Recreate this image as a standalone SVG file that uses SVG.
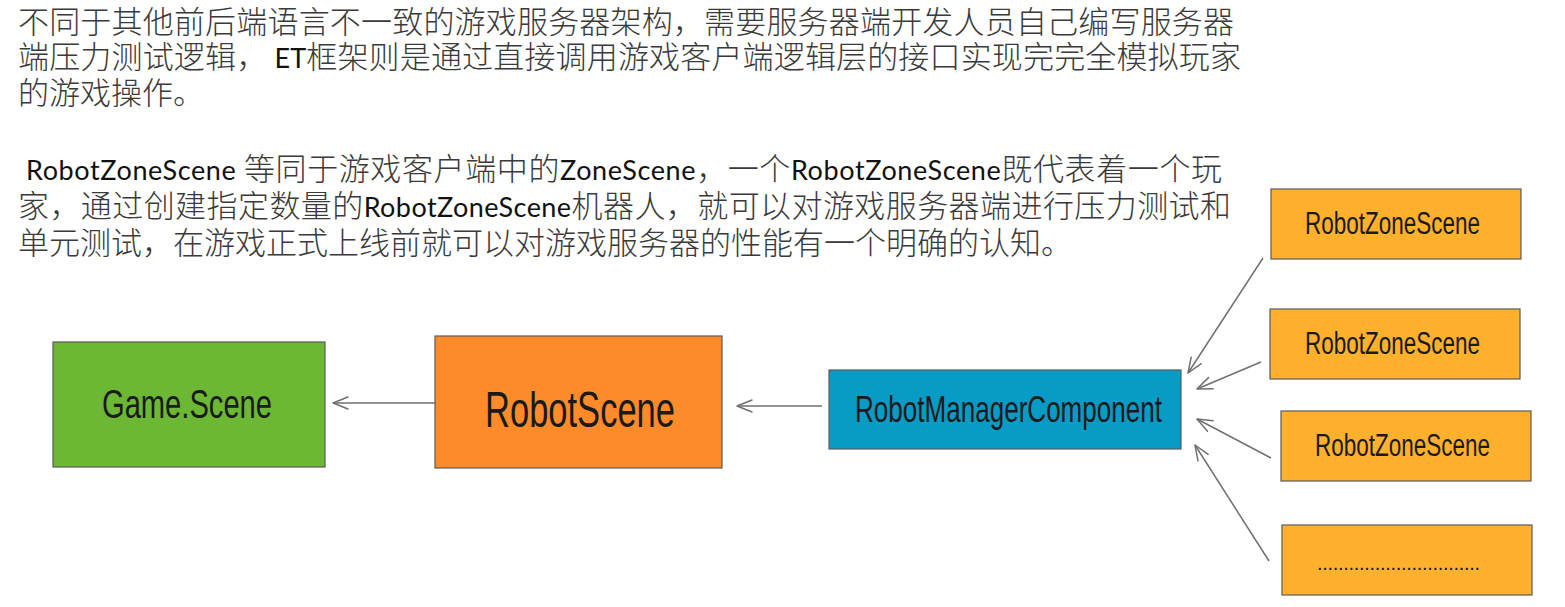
<svg xmlns="http://www.w3.org/2000/svg" width="1565" height="607" viewBox="0 0 1565 607">
<style>
  .cn { font-family: "Noto Sans CJK SC", "Noto Sans", sans-serif; font-size: 31px; font-weight: 300; fill: #3a3a3a; }
  .en { font-family: Lato, "Liberation Sans", sans-serif; font-size: 27px; font-weight: 400; fill: #111111; }
  .box { stroke: #5a5a5a; stroke-width: 1.2; }
  .lbl { font-family: "Liberation Sans", "DejaVu Sans", sans-serif; fill: #1a1a1a; }
  .conn { stroke: #707070; stroke-width: 1.5; fill: none; marker-end: url(#arr); }
</style>
<defs>
  <marker id="arr" markerUnits="userSpaceOnUse" markerWidth="22" markerHeight="16" viewBox="-18 -8 22 16" refX="0" refY="0" orient="auto">
    <path d="M-15,-6 L0,0 L-15,6" fill="none" stroke="#707070" stroke-width="1.5" stroke-linecap="round" stroke-linejoin="round"/>
  </marker>
</defs>
<rect width="1565" height="607" fill="#ffffff"/>

<g id="paragraph1">
  <text class="cn" x="18" y="33" textLength="1216" lengthAdjust="spacing">不同于其他前后端语言不一致的游戏服务器架构，需要服务器端开发人员自己编写服务器</text>
  <text class="cn" x="18" y="68" textLength="1223" lengthAdjust="spacing">端压力测试逻辑，<tspan class="en"> ET</tspan>框架则是通过直接调用游戏客户端逻辑层的接口实现完完全模拟玩家</text>
  <text class="cn" x="18" y="104">的游戏操作。</text>
</g>

<g id="paragraph2">
  <text class="cn" x="26" y="180" textLength="1196" lengthAdjust="spacing"><tspan class="en">RobotZoneScene </tspan>等同于游戏客户端中的<tspan class="en">ZoneScene</tspan>，一个<tspan class="en">RobotZoneScene</tspan>既代表着一个玩</text>
  <text class="cn" x="18" y="217" textLength="1213" lengthAdjust="spacing">家，通过创建指定数量的<tspan class="en">RobotZoneScene</tspan>机器人，就可以对游戏服务器端进行压力测试和</text>
  <text class="cn" x="18" y="254">单元测试，在游戏正式上线前就可以对游戏服务器的性能有一个明确的认知。</text>
</g>

<g id="connectors">
  <line class="conn" x1="435" y1="403" x2="333" y2="403"/>
  <line class="conn" x1="822" y1="406" x2="737" y2="406"/>
  <line class="conn" x1="1263" y1="258" x2="1188" y2="373"/>
  <line class="conn" x1="1261" y1="362" x2="1197" y2="389"/>
  <line class="conn" x1="1271" y1="458" x2="1197" y2="419"/>
  <line class="conn" x1="1269" y1="561" x2="1195" y2="445"/>
</g>

<g id="game-scene">
  <rect class="box" x="53" y="342" width="272" height="125" fill="#6cb733"/>
  <text class="lbl" x="102" y="418" font-size="40" textLength="170" lengthAdjust="spacingAndGlyphs">Game.Scene</text>
</g>

<g id="robot-scene">
  <rect class="box" x="435" y="336" width="287" height="132" fill="#fd8b2a"/>
  <text class="lbl" x="485" y="427" font-size="50" textLength="190" lengthAdjust="spacingAndGlyphs">RobotScene</text>
</g>

<g id="robot-manager-component">
  <rect class="box" x="829" y="370" width="352" height="79" fill="#079bc6"/>
  <text class="lbl" x="855" y="422" font-size="36" textLength="307" lengthAdjust="spacingAndGlyphs">RobotManagerComponent</text>
</g>

<g id="robot-zone-scene-1">
  <rect class="box" x="1271" y="189" width="250" height="70" fill="#ffb12d"/>
  <text class="lbl" x="1305" y="234" font-size="31" textLength="175" lengthAdjust="spacingAndGlyphs">RobotZoneScene</text>
</g>

<g id="robot-zone-scene-2">
  <rect class="box" x="1270" y="309" width="250" height="70" fill="#ffb12d"/>
  <text class="lbl" x="1305" y="354" font-size="31" textLength="175" lengthAdjust="spacingAndGlyphs">RobotZoneScene</text>
</g>

<g id="robot-zone-scene-3">
  <rect class="box" x="1281" y="411" width="250" height="70" fill="#ffb12d"/>
  <text class="lbl" x="1315" y="456" font-size="31" textLength="175" lengthAdjust="spacingAndGlyphs">RobotZoneScene</text>
</g>

<g id="robot-zone-scene-more">
  <rect class="box" x="1282" y="525" width="250" height="70" fill="#ffb12d"/>
  <text class="lbl" x="1317" y="570" font-size="20" textLength="163" lengthAdjust="spacing">...............................</text>
</g>
</svg>
